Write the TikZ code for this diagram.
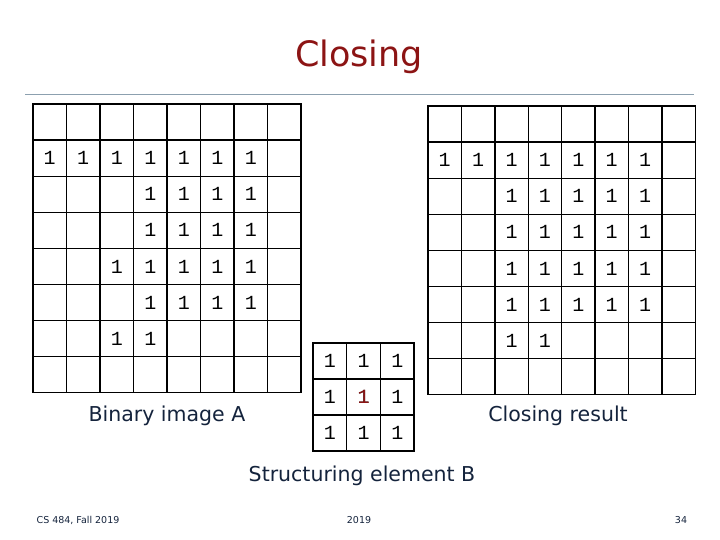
\documentclass[tikz,border=0pt]{standalone}
\usepackage{fontspec}
\setmainfont{DejaVu Sans}
\setmonofont{Liberation Mono}
\usetikzlibrary{positioning}
\definecolor{titlered}{RGB}{140,20,20}
\definecolor{rulegray}{RGB}{140,160,175}
\definecolor{labelblue}{RGB}{20,35,60}
\newcommand{\cellw}{33.5pt}
\newcommand{\cellh}{36.1pt}

\begin{document}
\begin{tikzpicture}[x=1pt,y=-1pt,
    cell/.style={draw,line width=1.3pt,minimum width=\cellw,minimum height=\cellh,
      inner sep=0pt,font=\ttfamily\fontsize{20}{20}\selectfont},
    label/.style={font=\fontsize{20.5}{22}\selectfont,text=labelblue},
    foot/.style={font=\fontsize{9.5}{10}\selectfont,text=labelblue}]
    \useasboundingbox (0,0) rectangle (720,540);

    \node[font=\fontsize{35}{38}\selectfont,text=titlered] (title) at (359,57) {Closing};
    \coordinate (ruleL) at (25,94);
    \coordinate (ruleR) at (694,94);
    \draw[rulegray,line width=0.8pt] (ruleL) -- (ruleR);

    % binary image A
    \foreach \row [count=\r from 0] in {{0,0,0,0,0,0,0,0},{1,1,1,1,1,1,1,0},{0,0,0,1,1,1,1,0},
        {0,0,0,1,1,1,1,0},{0,0,1,1,1,1,1,0},{0,0,0,1,1,1,1,0},{0,0,1,1,0,0,0,0},{0,0,0,0,0,0,0,0}}
      \foreach \v [count=\c from 0] in \row
        \node[cell] (A-\r-\c) at (49.75+33.5*\c,122.05+36.1*\r) {\ifnum\v=1 1\fi};

    % closing result
    \foreach \row [count=\r from 0] in {{0,0,0,0,0,0,0,0},{1,1,1,1,1,1,1,0},{0,0,1,1,1,1,1,0},
        {0,0,1,1,1,1,1,0},{0,0,1,1,1,1,1,0},{0,0,1,1,1,1,1,0},{0,0,1,1,0,0,0,0},{0,0,0,0,0,0,0,0}}
      \foreach \v [count=\c from 0] in \row
        \node[cell] (R-\r-\c) at (444.7+33.4*\c,124.05+36.1*\r) {\ifnum\v=1 1\fi};

    % structuring element B
    \foreach \r in {0,1,2}
      \foreach \c in {0,1,2}
        \node[cell,minimum width=33.7pt,minimum height=36pt] (B-\r-\c) at (329.85+33.7*\c,361+36*\r) {1};
    \node[text=titlered,font=\ttfamily\fontsize{20}{20}\selectfont] at (B-1-1) {1};

    \node[label] (labA) at (167,416) {Binary image A};
    \node[label] (labR) at (558,416) {Closing result};
    \node[label] (labB) at (362,476) {Structuring element B};

    \node[foot] (course) at (78,520) {CS 484, Fall 2019};
    \node[foot] (year) at (359,520) {2019};
    \node[foot] (page) at (681,520) {34};
\end{tikzpicture}
\end{document}
